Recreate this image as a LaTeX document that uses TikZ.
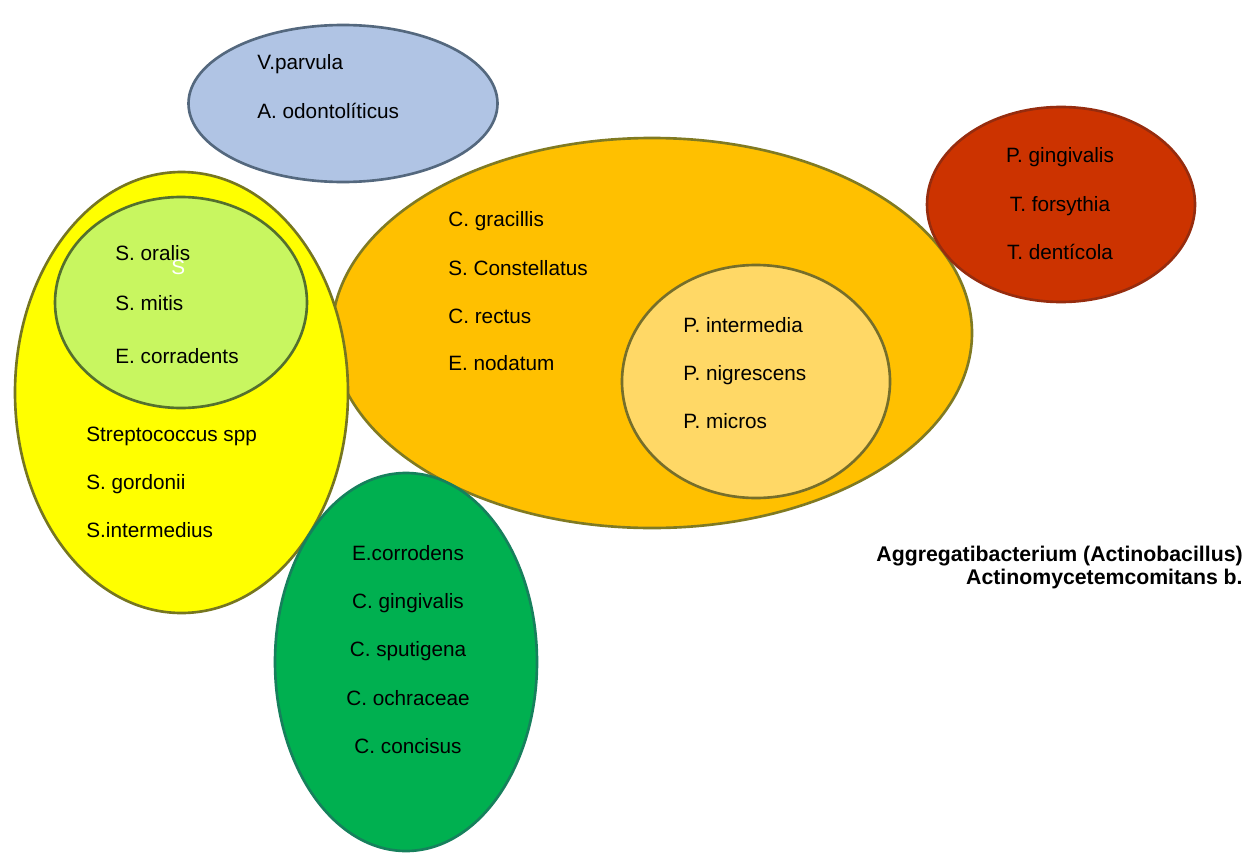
\documentclass[tikz,border=0pt]{standalone}
\usepackage{fontspec}
\setmainfont{Liberation Sans}
\usepackage{xcolor}
\usepackage{tikz}
\usetikzlibrary{positioning}
\definecolor{blfill}{RGB}{176,196,228}
\definecolor{bldraw}{RGB}{84,104,126}
\definecolor{yefill}{RGB}{255,255,0}
\definecolor{yedraw}{RGB}{118,118,32}
\definecolor{lgfill}{RGB}{200,246,96}
\definecolor{lgdraw}{RGB}{84,112,46}
\definecolor{orfill}{RGB}{255,192,0}
\definecolor{ordraw}{RGB}{128,122,34}
\definecolor{lofill}{RGB}{255,216,102}
\definecolor{lodraw}{RGB}{118,110,42}
\definecolor{rdfill}{RGB}{204,51,0}
\definecolor{rddraw}{RGB}{150,44,14}
\definecolor{grfill}{RGB}{0,176,80}
\definecolor{grdraw}{RGB}{22,128,92}
\tikzset{
  blob/.style={line width=1.5pt},
  species/.style={font=\fontsize{11.8}{14}\selectfont, inner sep=0pt,
    anchor=base west, text=black},
  speciesc/.style={species, anchor=base},
  note/.style={species, font=\fontsize{12.1}{14}\bfseries\selectfont,
    anchor=base east}
}

\begin{document}
\begin{tikzpicture}[x=0.02cm, y=-0.02cm]
  \useasboundingbox[fill=white] (0,0) rectangle (1256,855);

  % --- Blue group ---
  \filldraw[blob, fill=blfill, draw=bldraw] (343,103.5) ellipse [x radius=154.5, y radius=78.5];
  \node[species] (vparvula) at (257,70) {V.parvula};
  \node[species] (aodonto) at (257,118) {A. odontolíticus};

  % --- Orange group ---
  \filldraw[blob, fill=orfill, draw=ordraw] (652,333) ellipse [x radius=320, y radius=195];
  \node[species] (cgracillis) at (448,226.5) {C. gracillis};
  \node[species] (sconst) at (448,275) {S. Constellatus};
  \node[species] (crectus) at (448,323) {C. rectus};
  \node[species] (enodatum) at (448,370.5) {E. nodatum};
  % inner orange
  \filldraw[blob, fill=lofill, draw=lodraw] (756,381.5) ellipse [x radius=134, y radius=116.5];
  \node[species] (pinter) at (683,332.5) {P. intermedia};
  \node[species] (pnigr) at (683,380.5) {P. nigrescens};
  \node[species] (pmicros) at (683,428.5) {P. micros};

  % --- Yellow group ---
  \filldraw[blob, fill=yefill, draw=yedraw] (181.5,392.5) ellipse [x radius=166.5, y radius=220.5];
  \node[species] (strepto) at (86,441.5) {Streptococcus spp};
  \node[species] (sgordonii) at (86,489.5) {S. gordonii};
  \node[species] (sinter) at (86,537) {S.intermedius};
  % inner light green
  \filldraw[blob, fill=lgfill, draw=lgdraw] (181,302.5) ellipse [x radius=126, y radius=105.5];
  \node[species] (soralis) at (115,260.5) {S. oralis};
  \node[species] (smitis) at (115,310.5) {S. mitis};
  \node[species] (ecorr) at (115,363) {E. corradents};
  \node[species, text=white] (sletter) at (171,274) {S};

  % --- Red group ---
  \filldraw[blob, fill=rdfill, draw=rddraw] (1061,204.5) ellipse [x radius=134, y radius=97.5];
  \node[speciesc] (pging) at (1060,162.5) {P. gingivalis};
  \node[speciesc] (tfors) at (1060,211) {T. forsythia};
  \node[speciesc] (tdent) at (1060,259) {T. dentícola};

  % --- Green group ---
  \filldraw[blob, fill=grfill, draw=grdraw] (406,662) ellipse [x radius=131, y radius=189];
  \node[speciesc] (ecorrod) at (408,560) {E.corrodens};
  \node[speciesc] (cging) at (408,608) {C. gingivalis};
  \node[speciesc] (csput) at (408,656.5) {C. sputigena};
  \node[speciesc] (cochr) at (408,705.5) {C. ochraceae};
  \node[speciesc] (cconc) at (408,753.5) {C. concisus};

  % --- Aggregatibacterium note ---
  \node[note] (aggr) at (1243,561) {Aggregatibacterium (Actinobacillus)};
  \node[note] (actino) at (1243,584) {Actinomycetemcomitans b.};
\end{tikzpicture}
\end{document}
